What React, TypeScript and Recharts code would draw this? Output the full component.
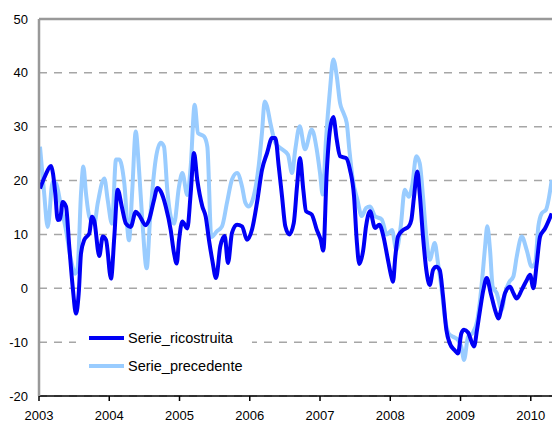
import { LineChart, Line, XAxis, YAxis, CartesianGrid, ReferenceLine } from 'recharts'

// tempo in anni decimali
const ricostruitaTempi = [
  2003.014, 2003.085, 2003.171, 2003.232, 2003.266, 2003.299, 2003.337, 2003.384, 2003.431, 2003.48,
  2003.527, 2003.565, 2003.598, 2003.645, 2003.716, 2003.754, 2003.787, 2003.858, 2003.907, 2003.954,
  2004.025, 2004.072, 2004.12, 2004.181, 2004.238, 2004.305, 2004.377, 2004.424, 2004.519, 2004.566,
  2004.637, 2004.684, 2004.732, 2004.804, 2004.875, 2004.922, 2004.96, 2004.993, 2005.04, 2005.111,
  2005.159, 2005.206, 2005.253, 2005.325, 2005.373, 2005.42, 2005.467, 2005.52, 2005.581, 2005.643,
  2005.69, 2005.747, 2005.819, 2005.89, 2005.961, 2006.032, 2006.103, 2006.174, 2006.246, 2006.317,
  2006.364, 2006.412, 2006.459, 2006.506, 2006.563, 2006.626, 2006.673, 2006.715, 2006.762, 2006.801,
  2006.882, 2006.953, 2007.01, 2007.047, 2007.095, 2007.142, 2007.189, 2007.238, 2007.285, 2007.37,
  2007.427, 2007.484, 2007.522, 2007.559, 2007.616, 2007.655, 2007.712, 2007.783, 2007.844, 2007.901,
  2007.958, 2008.015, 2008.039, 2008.072, 2008.11, 2008.181, 2008.263, 2008.3, 2008.338, 2008.385,
  2008.419, 2008.466, 2008.513, 2008.562, 2008.609, 2008.655, 2008.704, 2008.751, 2008.798, 2008.846,
  2008.917, 2008.964, 2009.011, 2009.05, 2009.107, 2009.192, 2009.235, 2009.278, 2009.325, 2009.373,
  2009.43, 2009.491, 2009.538, 2009.587, 2009.633, 2009.705, 2009.752, 2009.8, 2009.871, 2009.942,
  2009.99, 2010.037, 2010.085, 2010.132, 2010.203, 2010.298,
]
const ricostruitaValori = [
  18.5, 20.8, 22.7, 17.6, 12.7, 12.8, 16, 15.2, 7.7, 0.2,
  -4.7, -1, 6.5, 9, 10.2, 13.3, 12.5, 6, 9.6, 9,
  1.8, 9.6, 18.3, 15, 12, 11.4, 14.2, 13.6, 11.7, 12.7,
  16.4, 18.6, 18, 15.2, 10.8, 6.5, 4.6, 8.9, 12.4, 11.1,
  17.6, 25.1, 20.1, 15.2, 13.3, 8.9, 5.2, 1.9, 7.8, 9.7,
  4.7, 10.3, 11.8, 11.5, 9, 10.9, 15.9, 22, 25.1, 27.9,
  27.9, 22.7, 17.1, 11.5, 10, 12.1, 19, 24.2, 18.3, 14.3,
  13.7, 10.9, 9, 7, 21.4, 29.5, 31.8, 27.6, 24.5, 24.2,
  22, 17.1, 9, 4.5, 7.2, 11.5, 14.3, 11.2, 11.8, 9.7,
  5.9, 2.2, 1.2, 5.9, 9.6, 10.8, 11.5, 12.7, 17, 21.7,
  17.6, 9.6, 3.4, 0.6, 3.4, 4, 3.4, -1.5, -7.7, -10.2,
  -11.5, -12.1, -8.4, -7.7, -8.2, -10.8, -7.7, -4, -0.3, 1.9,
  -0.9, -4, -5.6, -3.4, -0.9, 0.3, -0.9, -1.9, -0.3, 1.5,
  2.5, 0, 4.6, 9.6, 11.1, 13.9,
]

const precedenteTempi = [
  2003.014, 2003.071, 2003.124, 2003.195, 2003.242, 2003.313, 2003.384, 2003.456, 2003.517, 2003.551,
  2003.598, 2003.631, 2003.669, 2003.716, 2003.787, 2003.836, 2003.93, 2003.978, 2004.039, 2004.096,
  2004.143, 2004.214, 2004.281, 2004.328, 2004.377, 2004.424, 2004.47, 2004.533, 2004.58, 2004.661,
  2004.732, 2004.779, 2004.826, 2004.875, 2004.922, 2004.993, 2005.04, 2005.111, 2005.159, 2005.216,
  2005.263, 2005.349, 2005.396, 2005.453, 2005.534, 2005.605, 2005.676, 2005.747, 2005.819, 2005.89,
  2005.937, 2005.985, 2006.056, 2006.127, 2006.174, 2006.213, 2006.246, 2006.293, 2006.364, 2006.459,
  2006.544, 2006.601, 2006.648, 2006.711, 2006.786, 2006.882, 2006.953, 2007.0, 2007.038, 2007.085,
  2007.142, 2007.189, 2007.238, 2007.285, 2007.332, 2007.38, 2007.417, 2007.466, 2007.531, 2007.594,
  2007.655, 2007.712, 2007.783, 2007.878, 2007.95, 2008.025, 2008.086, 2008.149, 2008.206, 2008.263,
  2008.31, 2008.371, 2008.419, 2008.466, 2008.513, 2008.562, 2008.633, 2008.68, 2008.727, 2008.775,
  2008.832, 2008.893, 2008.964, 2009.011, 2009.05, 2009.107, 2009.178, 2009.239, 2009.278, 2009.316,
  2009.349, 2009.381, 2009.42, 2009.458, 2009.515, 2009.587, 2009.633, 2009.695, 2009.752, 2009.8,
  2009.871, 2009.942, 2010.013, 2010.061, 2010.108, 2010.155, 2010.217, 2010.298,
]
const precedenteValori = [
  26.3, 18, 11.4, 19.8, 19.5, 15.2, 10.8, 5.2, 2.7, 4,
  17.6, 22.6, 17.6, 13.3, 12, 15.8, 20.4, 16.4, 12, 23.9,
  23.9, 19.5, 8.9, 18.3, 29.1, 22, 12.7, 3.7, 12.7, 23.9,
  27, 26.3, 18.3, 13.3, 12, 18.9, 21.4, 17.3, 22.6, 34.1,
  28.8, 28.2, 26.3, 9.5, 10.6, 11.5, 15.9, 20.2, 21.4, 18.9,
  15.9, 15.2, 17.1, 22.7, 28.9, 34.7, 33.8, 30.7, 27, 25.8,
  24.8, 21.4, 25.8, 30.1, 25.8, 29.5, 25.8, 21.4, 17.4, 27.6,
  36.9, 42.5, 39.4, 34.4, 32.6, 30.7, 25.8, 20.2, 16.5, 13.4,
  14.9, 15.2, 13.4, 12.8, 10, 10.8, 7.1, 11.5, 18.3, 17,
  18.9, 24.5, 23.2, 17, 9.6, 5.3, 8.4, 4.6, 0.3, -5.3,
  -8.4, -9, -9.6, -10.8, -13.3, -9, -8.2, -5.9, -2.2, 2.8,
  7.7, 11.5, 7.1, 0.3, -0.9, -4, -0.9, 1.2, 2.2, 5.9,
  9.6, 7.1, 4, 4.6, 11.5, 13.9, 14.6, 20.1,
]

const anni = [2003, 2004, 2005, 2006, 2007, 2008, 2009, 2010]
const valoriAsseY = [-20, -10, 0, 10, 20, 30, 40, 50]

type Punto = { t: number; ricostruita?: number; precedente?: number }

const mappa = new Map<number, Punto>()
ricostruitaTempi.forEach((t, i) => {
  const p = mappa.get(t) ?? { t }
  p.ricostruita = ricostruitaValori[i]
  mappa.set(t, p)
})
precedenteTempi.forEach((t, i) => {
  const p = mappa.get(t) ?? { t }
  p.precedente = precedenteValori[i]
  mappa.set(t, p)
})
const dati = Array.from(mappa.values()).sort((a, b) => a.t - b.t)

const FONT = 'Arial, "Liberation Sans", sans-serif'
const SCURO = '#0000F5'
const CHIARO = '#99CCFF'

function Legenda() {
  const voci = [
    { nome: 'Serie_ricostruita', colore: SCURO },
    { nome: 'Serie_precedente', colore: CHIARO },
  ]
  return (
    <div style={{ position: 'absolute', left: 76, top: 322, width: 176, height: 58, background: 'white', fontFamily: FONT }}>
      {voci.map((v, i) => (
        <div key={v.nome} style={{ position: 'absolute', left: 13, top: 16 + i * 28 - 9, height: 18, display: 'flex', alignItems: 'center' }}>
          <div style={{ width: 35, height: 4, background: v.colore }} />
          <span style={{ marginLeft: 4, fontSize: 14.5, color: '#000', whiteSpace: 'nowrap' }}>{v.nome}</span>
        </div>
      ))}
    </div>
  )
}

export default function App() {
  return (
    <div style={{ position: 'absolute', left: 0, top: 0, width: 552, height: 423, background: 'white' }}>
      <LineChart width={552} height={423} data={dati} margin={{ top: 19, right: 0, left: 0, bottom: 0 }}>
        <CartesianGrid vertical={false} stroke="#A6A6A6" strokeWidth={1.5} strokeDasharray="8 7" />
        <ReferenceLine y={50} stroke="#999999" strokeWidth={2.5} />
        <XAxis
          dataKey="t"
          type="number"
          domain={[2003, 2010.302]}
          ticks={anni}
          allowDataOverflow
          height={27}
          tickSize={5}
          tickMargin={10}
          stroke="#000"
          strokeWidth={1.5}
          tick={{ fontSize: 13, fill: '#000', fontFamily: FONT }}
        />
        <YAxis
          domain={[-20, 50]}
          ticks={valoriAsseY}
          width={39}
          tickLine={false}
          tickSize={6}
          tickMargin={5}
          axisLine={{ stroke: '#999999', strokeWidth: 2.5 }}
          tick={{ fontSize: 13, fill: '#000', fontFamily: FONT }}
        />
        <Line
          dataKey="precedente"
          name="Serie_precedente"
          type="monotone"
          stroke={CHIARO}
          strokeWidth={4}
          dot={false}
          connectNulls
          isAnimationActive={false}
        />
        <Line
          dataKey="ricostruita"
          name="Serie_ricostruita"
          type="monotone"
          stroke={SCURO}
          strokeWidth={4}
          dot={false}
          connectNulls
          isAnimationActive={false}
        />
      </LineChart>
      <Legenda />
    </div>
  )
}
